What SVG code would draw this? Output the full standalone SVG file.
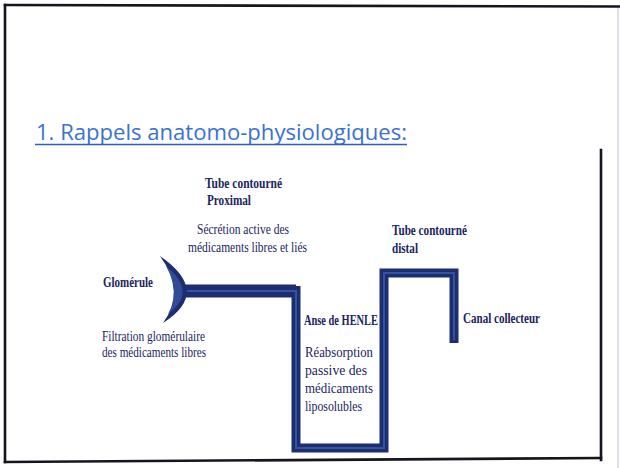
<svg xmlns="http://www.w3.org/2000/svg" width="620" height="468" viewBox="0 0 620 468">
<defs>
<style>
.frame{stroke:#15151f;stroke-width:2.6;fill:none;stroke-linecap:square}
.title{font-family:"Open Sans","Liberation Sans",sans-serif;font-size:21px;fill:#3a72d2}
.lbl{font-family:"Liberation Serif","DejaVu Serif",serif;font-size:14px;fill:#1b2462}
.b{font-weight:bold}
.tube{fill:none;stroke:#1d2d72;stroke-linejoin:miter;stroke-linecap:butt}
.core{fill:none;stroke:#34549c;stroke-linejoin:miter;stroke-linecap:butt;stroke-width:2}
</style>
</defs>
<rect width="620" height="468" fill="#ffffff"/>
<g id="frame">
<line class="frame" x1="5" y1="5" x2="620" y2="6.5"/>
<line class="frame" x1="5" y1="5" x2="5" y2="462"/>
<line class="frame" x1="5" y1="462" x2="601" y2="458"/>
<line class="frame" x1="601" y1="150" x2="601" y2="460"/>
<line x1="618" y1="8" x2="618" y2="468" stroke="#c9ccd6" stroke-width="1.2"/>
</g>
<g id="title">
<text class="title" x="36" y="140" textLength="371" lengthAdjust="spacingAndGlyphs">1. Rappels anatomo-physiologiques:</text>
<line x1="35" y1="144.5" x2="407" y2="144.5" stroke="#2a5fc4" stroke-width="1.6"/>
</g>
<g id="connectors">
<path class="tube" stroke-width="13" d="M180,291 H296"/>
<path class="tube" stroke-width="9" d="M296,286 V448 H384 V273 H454 V343"/>
<path class="core" d="M186,291 H296 V448 H384 V273 H454 V340"/>
</g>
<g id="glomerule">
<path d="M160,256 Q212,292 163,323 Q186,292 160,256 Z" fill="#1d2d72"/>
<path d="M166,266 Q198,292 168,314 Q181,292 166,266 Z" fill="#34549c" opacity="0.8"/>
<text class="lbl b" x="103" y="287" textLength="50" lengthAdjust="spacingAndGlyphs">Glomérule</text>
<text class="lbl" x="102" y="341" textLength="103" lengthAdjust="spacingAndGlyphs">Filtration glomérulaire</text>
<text class="lbl" x="102" y="357" textLength="104" lengthAdjust="spacingAndGlyphs">des médicaments libres</text>
</g>
<g id="tube-proximal">
<text class="lbl b" x="205" y="188" textLength="77" lengthAdjust="spacingAndGlyphs">Tube contourné</text>
<text class="lbl b" x="207" y="205" textLength="44" lengthAdjust="spacingAndGlyphs">Proximal</text>
<text class="lbl" x="197" y="234" textLength="92" lengthAdjust="spacingAndGlyphs">Sécrétion active des</text>
<text class="lbl" x="188" y="252" textLength="119" lengthAdjust="spacingAndGlyphs">médicaments libres et liés</text>
</g>
<g id="anse-henle">
<text class="lbl b" x="304" y="325" textLength="74" lengthAdjust="spacingAndGlyphs">Anse de HENLE</text>
<text class="lbl" x="305" y="357" textLength="68" lengthAdjust="spacingAndGlyphs">Réabsorption</text>
<text class="lbl" x="305" y="375" textLength="62" lengthAdjust="spacingAndGlyphs">passive des</text>
<text class="lbl" x="305" y="393" textLength="68" lengthAdjust="spacingAndGlyphs">médicaments</text>
<text class="lbl" x="305" y="411" textLength="57" lengthAdjust="spacingAndGlyphs">liposolubles</text>
</g>
<g id="tube-distal">
<text class="lbl b" x="392" y="235" textLength="75" lengthAdjust="spacingAndGlyphs">Tube contourné</text>
<text class="lbl b" x="392" y="253" textLength="26" lengthAdjust="spacingAndGlyphs">distal</text>
</g>
<g id="canal-collecteur">
<text class="lbl b" x="463" y="323" textLength="77" lengthAdjust="spacingAndGlyphs">Canal collecteur</text>
</g>
</svg>
